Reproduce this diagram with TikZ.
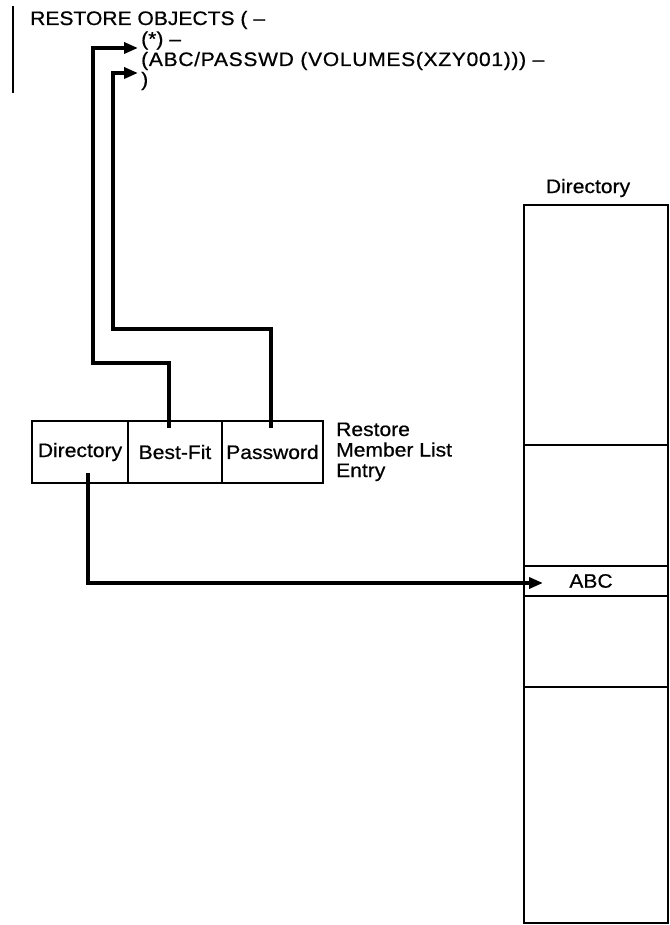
\documentclass[tikz,border=0pt]{standalone}
\usepackage{fontspec}
\setmainfont{Liberation Sans}[FakeStretch=1.08,FakeBold=0.6]
\usetikzlibrary{arrows.meta}
\begin{document}
\begin{tikzpicture}[x=1pt,y=-1pt,
  txt/.style={inner sep=0pt,anchor=base west,font=\fontsize{19.5}{21}\selectfont},
  lbl/.style={inner sep=0pt,font=\fontsize{19.5}{21}\selectfont},
  cell/.style={draw,line width=2.2pt,minimum height=62pt,inner sep=0pt,font=\fontsize{19.5}{21}\selectfont},
  dcell/.style={draw,line width=2.2pt,minimum width=144pt,inner sep=0pt,font=\fontsize{19.5}{21}\selectfont},
  conn/.style={line width=4pt,line join=miter,-{Triangle[length=14pt,width=11pt]}},
  bar/.style={line width=2.2pt}]
\useasboundingbox (0,0) rectangle (669,925);
% command text
\draw[bar] (13,6) coordinate (b1) -- (13,93) coordinate (b2);
\node[txt] (l1) at (30,25) {RESTORE OBJECTS ( –};
\node[txt] (l2) at (141,45.5) {(*) –};
\node[txt] (l3) at (141,66) {\addfontfeature{LetterSpace=3.5}(ABC/PASSWD (VOLUMES(XZY001))) –};
\node[txt] (l4) at (141,86) {)};
% member list entry
\node[cell,minimum width=96pt] (dir) at (80,452) {Directory};
\node[cell,minimum width=94pt] (bf) at (175,452) {Best-Fit};
\node[cell,minimum width=101pt] (pw) at (272.5,452) {Password};
\node[txt] (r1) at (336,436) {Restore};
\node[txt] (r2) at (336,456.5) {Member List};
\node[txt] (r3) at (336,477) {Entry};
% directory column
\node[lbl] (dlab) at (588,188) {Directory};
\node[dcell,minimum height=240pt] (c1) at (596,325) {};
\node[dcell,minimum height=121pt] (c2) at (596,505.5) {};
\node[dcell,minimum height=30pt] (abc) at (596,581) {\hspace*{-10pt}ABC};
\node[dcell,minimum height=91pt] (c4) at (596,641.5) {};
\node[dcell,minimum height=236pt] (c5) at (596,805) {};
% connectors
\coordinate (bfs) at (169,428);
\coordinate (pws) at (271,428);
\coordinate (dirs) at (88,473);
\coordinate (k1) at (93,363);
\coordinate (k2) at (113,329);
\coordinate (t1) at (138,48);
\coordinate (t2) at (138,73);
\coordinate (k3) at (88,583);
\coordinate (t3) at (543,583);
\draw[conn] (bfs) |- (k1) |- (t1);
\draw[conn] (pws) |- (k2) |- (t2);
\draw[conn] (dirs) -- (k3) -- (t3);
\end{tikzpicture}
\end{document}
